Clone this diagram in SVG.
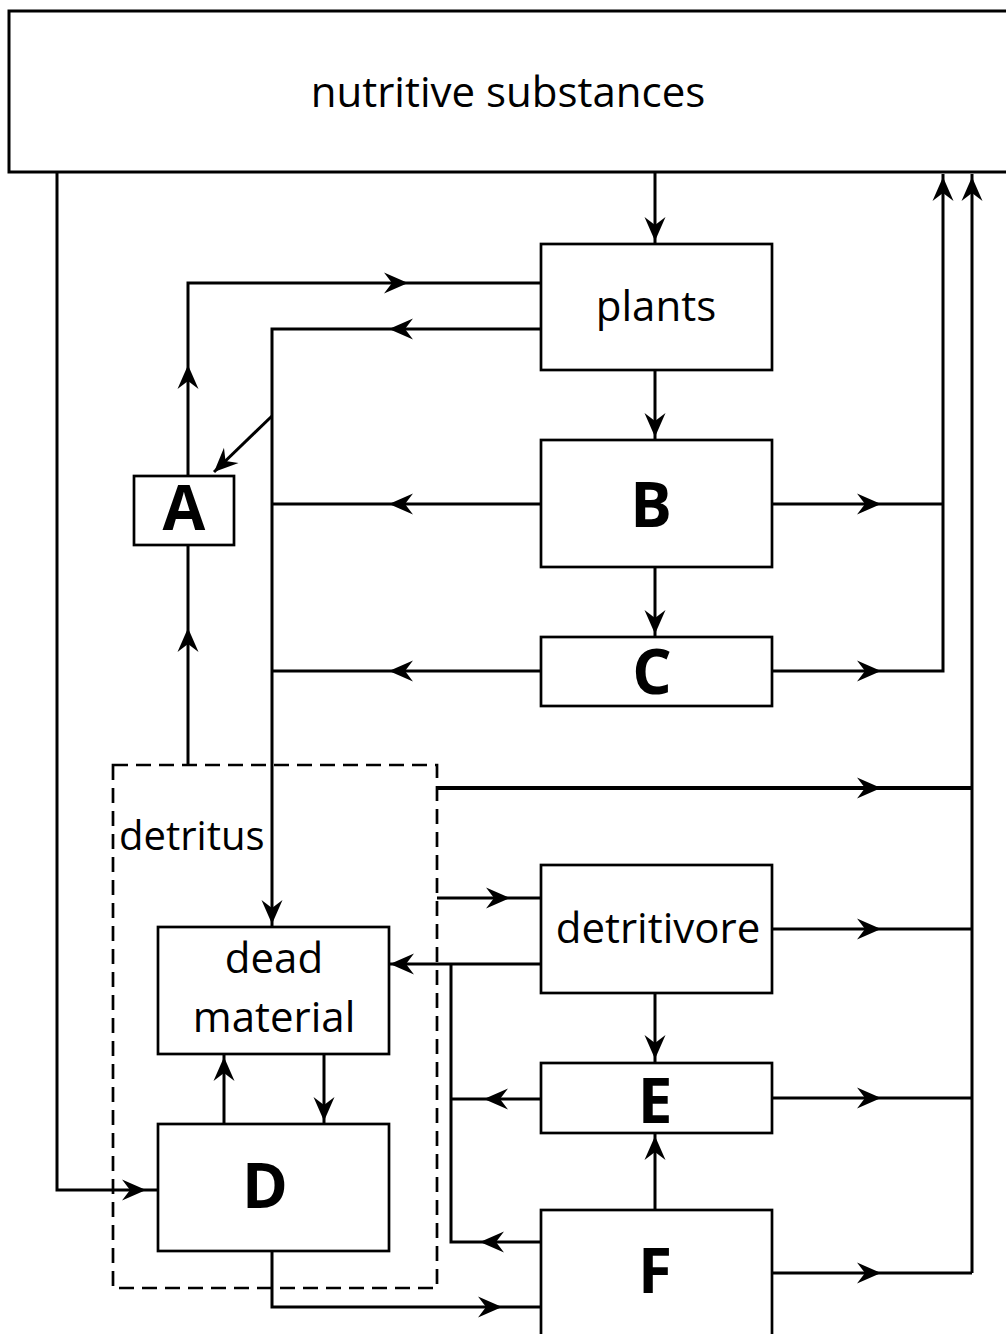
<svg xmlns="http://www.w3.org/2000/svg" xmlns:xlink="http://www.w3.org/1999/xlink" width="1006" height="1334" viewBox="0 0 1006 1334">
<style>
.box{fill:#fff;stroke:#000;stroke-width:2.7}
.dash{fill:none;stroke:#000;stroke-width:2.7;stroke-dasharray:15 8}
.ln{fill:none;stroke:#000;stroke-width:3}
.thick{stroke-width:3.8}
.t{font-family:"Open Sans","Noto Sans",sans-serif;font-size:42px;fill:#000;text-anchor:middle}
.b{font-family:"Open Sans","Noto Sans",sans-serif;font-size:62px;font-weight:bold;fill:#000;text-anchor:middle}
</style>
<defs>
<path id="ah" d="M0,0 L-24,-10.5 L-16,0 L-24,10.5 Z" fill="#000"/>
</defs>
<rect width="1006" height="1334" fill="#fff"/>
<g id="nutritive"><rect class="box" x="9" y="11" width="1010" height="161" style="stroke-width:3"/><text class="t" x="508" y="107">nutritive substances</text></g>
<g id="plants"><rect class="box" x="541" y="244" width="231" height="126"/><text class="t" x="656" y="321">plants</text></g>
<g id="B"><rect class="box" x="541" y="440" width="231" height="127"/><text class="b" x="651" y="527">B</text></g>
<g id="C"><rect class="box" x="541" y="637" width="231" height="69"/><text class="b" x="652" y="694">C</text></g>
<g id="A"><rect class="box" x="134" y="476" width="100" height="69"/><text class="b" x="184" y="530">A</text></g>
<g id="detritus"><rect class="dash" x="113" y="765" width="324" height="523"/><text class="t" x="119" y="850" style="text-anchor:start;font-size:40px">detritus</text></g>
<g id="dead"><rect class="box" x="158" y="927" width="231" height="127"/><text class="t" x="274" y="973">dead</text><text class="t" x="274" y="1032">material</text></g>
<g id="D"><rect class="box" x="158" y="1124" width="231" height="127"/><text class="b" x="265" y="1208">D</text></g>
<g id="detritivore"><rect class="box" x="541" y="865" width="231" height="128"/><text class="t" x="658" y="943">detritivore</text></g>
<g id="E"><rect class="box" x="541" y="1063" width="231" height="70"/><text class="b" x="655" y="1123">E</text></g>
<g id="F"><rect class="box" x="541" y="1210" width="231" height="140"/><text class="b" x="655" y="1293">F</text></g>
<g id="connectors">
<path class="ln" d="M655,172 V244"/><use xlink:href="#ah" transform="translate(655,241) rotate(90)"/>
<path class="ln" d="M655,370 V440"/><use xlink:href="#ah" transform="translate(655,437) rotate(90)"/>
<path class="ln" d="M655,567 V637"/><use xlink:href="#ah" transform="translate(655,634) rotate(90)"/>
<path class="ln" d="M57,172 V1190 H158"/><use xlink:href="#ah" transform="translate(146,1190)"/>
<path class="ln" d="M188,476 V283 H541"/><use xlink:href="#ah" transform="translate(188,365) rotate(-90)"/><use xlink:href="#ah" transform="translate(408,283)"/>
<path class="ln" d="M188,765 V545"/><use xlink:href="#ah" transform="translate(188,628) rotate(-90)"/>
<path class="ln" d="M541,329 H272 V927"/><use xlink:href="#ah" transform="translate(389,329) rotate(180)"/><use xlink:href="#ah" transform="translate(272,924) rotate(90)"/>
<path class="ln" d="M272,416 L214,472"/><use xlink:href="#ah" transform="translate(214,472) rotate(136)"/>
<path class="ln" d="M541,504 H272"/><use xlink:href="#ah" transform="translate(389,504) rotate(180)"/>
<path class="ln" d="M541,671 H272"/><use xlink:href="#ah" transform="translate(389,671) rotate(180)"/>
<path class="ln" d="M772,504 H943"/><use xlink:href="#ah" transform="translate(881,504)"/>
<path class="ln" d="M772,671 H943 V174"/><use xlink:href="#ah" transform="translate(881,671)"/><use xlink:href="#ah" transform="translate(943,177) rotate(-90)"/>
<path class="ln" d="M972,1273 V174"/><use xlink:href="#ah" transform="translate(972,177) rotate(-90)"/>
<path class="ln thick" d="M437,788 H972"/><use xlink:href="#ah" transform="translate(881,788)"/>
<path class="ln" d="M437,898 H541"/><use xlink:href="#ah" transform="translate(510,898)"/>
<path class="ln" d="M541,964 H389"/><use xlink:href="#ah" transform="translate(390,964) rotate(180)"/>
<path class="ln" d="M451,964 V1242 H541"/><use xlink:href="#ah" transform="translate(480,1242) rotate(180)"/>
<path class="ln" d="M541,1099 H451"/><use xlink:href="#ah" transform="translate(484,1099) rotate(180)"/>
<path class="ln" d="M772,929 H972"/><use xlink:href="#ah" transform="translate(881,929)"/>
<path class="ln" d="M772,1098 H972"/><use xlink:href="#ah" transform="translate(881,1098)"/>
<path class="ln" d="M772,1273 H972"/><use xlink:href="#ah" transform="translate(881,1273)"/>
<path class="ln" d="M655,993 V1063"/><use xlink:href="#ah" transform="translate(655,1059) rotate(90)"/>
<path class="ln" d="M655,1210 V1133"/><use xlink:href="#ah" transform="translate(655,1136) rotate(-90)"/>
<path class="ln" d="M324,1054 V1124"/><use xlink:href="#ah" transform="translate(324,1121) rotate(90)"/>
<path class="ln" d="M224,1124 V1054"/><use xlink:href="#ah" transform="translate(224,1057) rotate(-90)"/>
<path class="ln" d="M272,1251 V1307 H541"/><use xlink:href="#ah" transform="translate(502,1307)"/>
</g>
</svg>
